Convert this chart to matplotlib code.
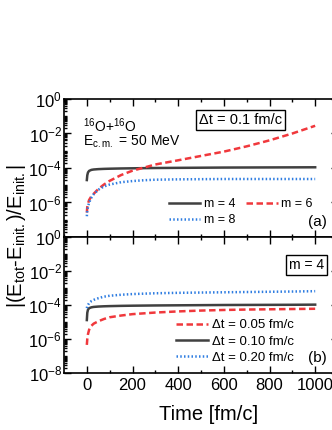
import numpy as np
import matplotlib
matplotlib.use("Agg")
import matplotlib.pyplot as plt
from matplotlib.ticker import LogLocator, FixedLocator, MultipleLocator, LogFormatterMathtext, NullFormatter

plt.rcParams['font.family'] = ['Liberation Sans', 'DejaVu Sans']
plt.rcParams['mathtext.default'] = 'regular'

# panel (a): dt = 0.1 fm/c, different m
t_a = [0, 2, 5, 10, 20, 30, 50, 75, 100, 150, 200, 250, 300, 400, 500, 600, 700, 800, 900, 1000]
m4_a = [2.0e-5, 3.8e-5, 5.5e-5, 6.8e-5, 7.8e-5, 8.2e-5, 8.6e-5, 8.9e-5, 9.1e-5, 9.4e-5, 9.6e-5,
        9.8e-5, 1.0e-4, 1.02e-4, 1.04e-4, 1.06e-4, 1.07e-4, 1.08e-4, 1.09e-4, 1.1e-4]
m6_a = [2.6e-7, 5.5e-7, 8.5e-7, 1.4e-6, 2.3e-6, 3.2e-6, 6.0e-6, 1.1e-5, 1.8e-5, 3.9e-5, 7.0e-5,
        1.05e-4, 1.6e-4, 2.8e-4, 5.0e-4, 8.9e-4, 1.8e-3, 4.0e-3, 1.0e-2, 2.8e-2]
m8_a = [1.6e-7, 3.5e-7, 5.5e-7, 1.0e-6, 1.9e-6, 3.0e-6, 5.5e-6, 8.5e-6, 1.1e-5, 1.5e-5, 1.75e-5,
        1.95e-5, 2.1e-5, 2.2e-5, 2.25e-5, 2.3e-5, 2.3e-5, 2.3e-5, 2.3e-5, 2.3e-5]

# panel (b): m = 4, different dt
t_b = [0, 2, 5, 10, 20, 30, 50, 75, 100, 150, 200, 300, 400, 500, 600, 700, 800, 900, 1000]
dt005 = [4.5e-7, 1.0e-6, 1.9e-6, 3.5e-6, 6.0e-6, 8.0e-6, 1.1e-5, 1.5e-5, 1.9e-5, 2.4e-5, 2.9e-5,
         3.6e-5, 4.2e-5, 4.7e-5, 5.1e-5, 5.4e-5, 5.6e-5, 5.8e-5, 6.0e-5]
dt010 = [1.3e-5, 3.5e-5, 5.3e-5, 6.5e-5, 7.3e-5, 7.7e-5, 8.1e-5, 8.4e-5, 8.6e-5, 8.9e-5, 9.1e-5,
         9.4e-5, 9.6e-5, 9.8e-5, 1.0e-4, 1.01e-4, 1.02e-4, 1.03e-4, 1.05e-4]
dt020 = [6.5e-5, 8.5e-5, 1.0e-4, 1.3e-4, 1.7e-4, 2.0e-4, 2.5e-4, 3.1e-4, 3.5e-4, 4.0e-4, 4.4e-4,
         4.9e-4, 5.2e-4, 5.4e-4, 5.6e-4, 5.8e-4, 6.0e-4, 6.2e-4, 6.5e-4]

gray = '#404040'
red = '#f0383c'
blue = '#2f7de1'
dash = (0, (2.6, 1.4))
dots = (0, (0.6, 0.9))

fig = plt.figure(figsize=(3.32, 4.30), dpi=100)
ax1 = fig.add_axes([64/332, 1-237/430, 274/332, 138/430])
ax2 = fig.add_axes([64/332, 1-373/430, 274/332, 136/430])

l4, = ax1.plot(t_a, m4_a, color=gray, lw=1.8, label='m = 4')
l6, = ax1.plot(t_a, m6_a, color=red, lw=1.8, ls=dash, label='m = 6')
l8, = ax1.plot(t_a, m8_a, color=blue, lw=1.8, ls=dots, label='m = 8')

b1, = ax2.plot(t_b, dt005, color=red, lw=1.8, ls=dash, label='Δt = 0.05 fm/c')
b2, = ax2.plot(t_b, dt010, color=gray, lw=1.8, label='Δt = 0.10 fm/c')
b3, = ax2.plot(t_b, dt020, color=blue, lw=1.8, ls=dots, label='Δt = 0.20 fm/c')

for ax in (ax1, ax2):
    ax.set_yscale('log')
    ax.set_ylim(1e-8, 1e0)
    ax.set_xlim(-100, 1100)
    ax.yaxis.set_major_locator(FixedLocator([1e-8, 1e-6, 1e-4, 1e-2, 1e0]))
    ax.yaxis.set_major_formatter(LogFormatterMathtext())
    ax.yaxis.set_minor_locator(LogLocator(base=10, subs=np.arange(1, 10), numticks=20))
    ax.yaxis.set_minor_formatter(NullFormatter())
    ax.xaxis.set_major_locator(MultipleLocator(200))
    ax.xaxis.set_minor_locator(MultipleLocator(100))
    ax.tick_params(which='both', direction='in', top=True, right=True, labelsize=12, width=1.0)
    ax.tick_params(which='major', length=5)
    ax.tick_params(which='minor', length=2.5)
    ax.tick_params(axis='y', pad=1.5)
    for s in ax.spines.values():
        s.set_linewidth(1.2)

ax1.tick_params(labelbottom=False)
ax1.set_yticks([1e-6, 1e-4, 1e-2, 1e0])
ax1.yaxis.set_minor_locator(LogLocator(base=10, subs=np.arange(1, 10), numticks=20))
ax2.set_xticks([0, 200, 400, 600, 800, 1000])
ax2.set_xticks([100, 300, 500, 700, 900], minor=True)

ax1.legend(handles=[l4, l8, l6], ncol=2, frameon=False, fontsize=9,
           loc='lower left', bbox_to_anchor=(0.35, 0.015), handlelength=2.5,
           handletextpad=0.3, columnspacing=0.9, labelspacing=0.3, borderpad=0.2)
ax2.legend(handles=[b1, b2, b3], frameon=False, fontsize=9.5,
           loc='lower left', bbox_to_anchor=(0.375, 0.0), handlelength=2.4,
           handletextpad=0.35, labelspacing=0.3, borderpad=0.2)

ax1.text(0.07, 0.81, '$^{16}$O+$^{16}$O', transform=ax1.transAxes, fontsize=10, va='center')
ax1.text(0.07, 0.69, 'E$_{c.m.}$ = 50 MeV', transform=ax1.transAxes, fontsize=10, va='center')
ax1.text(0.645, 0.845, 'Δt = 0.1 fm/c', transform=ax1.transAxes, fontsize=10.5, ha='center', va='center',
         bbox=dict(boxstyle='square,pad=0.2', fc='white', ec='black', lw=1.0))
ax1.text(0.925, 0.11, '(a)', transform=ax1.transAxes, fontsize=11, ha='center', va='center')
ax2.text(0.885, 0.795, 'm = 4', transform=ax2.transAxes, fontsize=10, ha='center', va='center',
         bbox=dict(boxstyle='square,pad=0.2', fc='white', ec='black', lw=1.0))
ax2.text(0.925, 0.11, '(b)', transform=ax2.transAxes, fontsize=11, ha='center', va='center')

fig.text(17/332, 1-236/430, '|(E$_{tot}$-E$_{init.}$)/E$_{init.}$|', rotation=90,
         fontsize=14.5, ha='center', va='center')
fig.text(209/332, 1-415/430, 'Time [fm/c]', fontsize=14.5, ha='center', va='center')

fig.savefig('out.png', dpi=100)
